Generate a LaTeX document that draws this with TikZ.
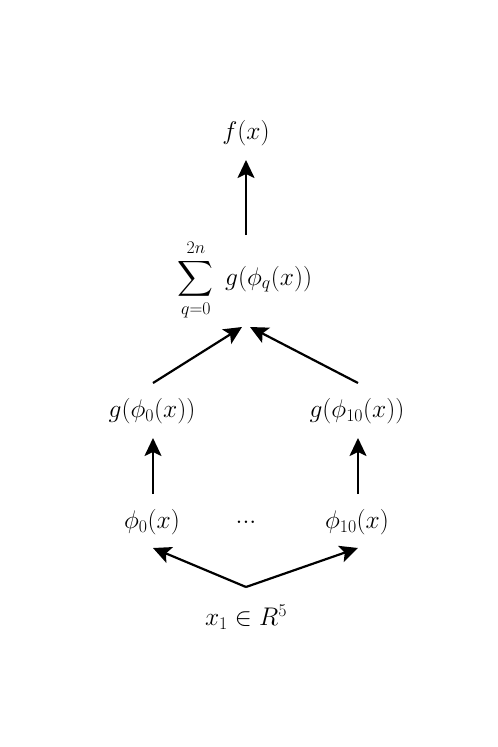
\documentclass[tikz,border=0pt]{standalone}
\usepackage{fix-cm}
\usepackage{exscale}
\usetikzlibrary{arrows.meta}
\begin{document}
\begin{tikzpicture}[x=1pt,y=-1pt,
  lbl/.style={inner sep=0pt, font=\fontsize{25.5}{30}\selectfont},
  arr/.style={-{Stealth[length=18pt,width=17pt,inset=4pt]}, line width=2.2pt}]
\useasboundingbox (0,0) rectangle (498,747);
\node[lbl] (f) at (246,133) {$f(x)$};
\node[lbl] (sum) at (245,280) {$\displaystyle\sum_{q=0}^{2n}\; g(\phi_q(x))$};
\node[lbl] (g0) at (152,411) {$g(\phi_0(x))$};
\node[lbl] (g10) at (357,411) {$g(\phi_{10}(x))$};
\node[lbl] (p0) at (152,522) {$\phi_0(x)$};
\node[lbl] (dots) at (246,522) {$...$};
\node[lbl] (p10) at (357,522) {$\phi_{10}(x)$};
\node[lbl] (x) at (246,617) {$x_1 \in R^5$};
% connector ends
\coordinate (sumout) at (246,235);
\coordinate (fin) at (246,160);
\coordinate (sumin) at (246,327);
\coordinate (g0out) at (153,383);
\coordinate (g10out) at (358,383);
\coordinate (g0in) at (153,438);
\coordinate (g10in) at (358,438);
\coordinate (p0out) at (153,494);
\coordinate (p10out) at (358,494);
\coordinate (p0in) at (153,548);
\coordinate (p10in) at (358,548);
\coordinate (xout) at (246,587);
\draw[arr] (sumout) -- (fin);
\draw[arr] (g0out) -- ([xshift=-4pt]sumin);
\draw[arr] (g10out) -- ([xshift=4pt]sumin);
\draw[arr] (p0out) -- (g0in);
\draw[arr] (p10out) -- (g10in);
\draw[arr] (xout) -- (p0in);
\draw[arr] (xout) -- (p10in);
\end{tikzpicture}
\end{document}
